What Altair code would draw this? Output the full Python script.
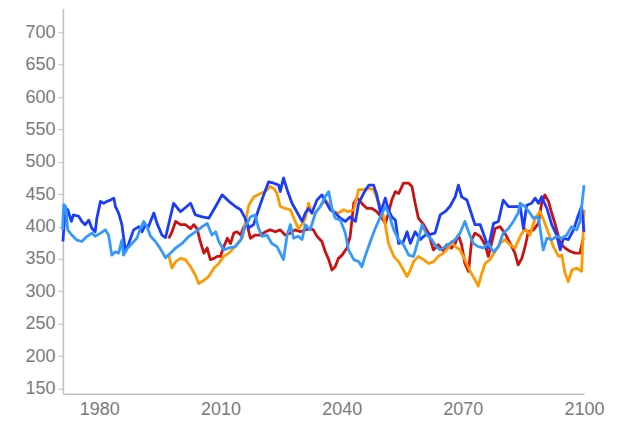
import altair as alt
import pandas as pd

# Series data (year, value)
blue_years = [1971.0, 1971.6, 1972.2, 1973.1, 1973.6, 1974.9, 1975.7, 1976.5, 1977.4, 1978.2, 1979.0, 1979.4,
              1980.3, 1981.1, 1981.9, 1982.8, 1983.6, 1984.0, 1984.8, 1985.6, 1986.5, 1987.3, 1988.5, 1989.8,
              1990.6, 1991.4, 1992.2, 1993.5, 1994.3, 1995.5, 1996.4, 1998.4, 2000.1, 2002.6, 2003.8, 2005.5,
              2007.1, 2008.8, 2010.4, 2012.1, 2013.7, 2015.0, 2016.1, 2017.0, 2018.2, 2019.4, 2020.7, 2021.9,
              2023.2, 2024.4, 2024.8, 2025.6, 2026.5, 2027.7, 2028.9, 2030.2, 2031.0, 2031.8, 2032.6, 2033.9,
              2035.1, 2036.0, 2037.2, 2038.4, 2039.7, 2040.9, 2042.1, 2043.4, 2044.2, 2045.4, 2046.7, 2047.9,
              2048.7, 2049.6, 2050.8, 2051.6, 2052.4, 2053.3, 2054.1, 2055.3, 2056.2, 2057.0, 2058.2, 2059.5,
              2060.7, 2061.9, 2063.1, 2064.4, 2065.6, 2066.8, 2068.1, 2068.9, 2069.7, 2071.0, 2071.8, 2073.0,
              2074.3, 2075.5, 2076.3, 2077.6, 2078.8, 2080.0, 2081.3, 2082.9, 2084.2, 2085.0, 2085.8, 2087.0,
              2087.9, 2088.7, 2089.5, 2090.8, 2092.0, 2093.2, 2094.1, 2094.9, 2096.1, 2097.4, 2098.6, 2099.4,
              2100.0]
blue_values = [377, 428, 426, 408, 418, 416, 408, 403, 410, 397, 392, 413,
               439, 436, 439, 441, 444, 431, 421, 403, 361, 374, 395, 400,
               392, 403, 400, 421, 405, 387, 383, 436, 423, 436, 418, 415,
               413, 431, 449, 439, 431, 426, 413, 398, 403, 426, 449, 469,
               467, 464, 454, 475, 457, 436, 423, 408, 421, 428, 421, 441,
               449, 439, 426, 421, 413, 408, 415, 408, 436, 451, 464, 464,
               449, 421, 444, 426, 415, 410, 374, 377, 392, 374, 392, 380,
               387, 388, 390, 418, 423, 431, 446, 464, 446, 441, 426, 403,
               403, 382, 367, 405, 408, 441, 431, 431, 431, 397, 433, 436,
               444, 436, 446, 428, 403, 387, 364, 382, 380, 395, 418, 431,
               392]

lightblue_years = [1970.9, 1971.2, 1971.7, 1972.2, 1973.2, 1974.5, 1975.7, 1977.0, 1978.2, 1979.0, 1980.3,
                   1981.5, 1982.3, 1983.1, 1984.0, 1984.8, 1985.6, 1986.0, 1986.9, 1988.1, 1989.3, 1990.2,
                   1991.0, 1991.8, 1992.7, 1993.9, 1995.1, 1996.4, 1997.6, 1998.9, 2000.5, 2002.2, 2003.8,
                   2005.5, 2006.7, 2007.9, 2008.8, 2009.6, 2010.8, 2012.1, 2013.7, 2015.0, 2016.1, 2017.4,
                   2018.6, 2019.4, 2020.3, 2021.5, 2022.7, 2024.0, 2024.8, 2025.6, 2026.5, 2027.3, 2028.1,
                   2029.3, 2030.2, 2031.0, 2032.2, 2033.5, 2034.7, 2035.9, 2036.8, 2037.6, 2038.4, 2039.7,
                   2040.9, 2041.7, 2043.0, 2044.2, 2045.0, 2045.8, 2047.1, 2048.3, 2049.6, 2050.8, 2051.6,
                   2052.9, 2054.1, 2055.3, 2056.6, 2057.8, 2059.0, 2059.9, 2061.1, 2062.3, 2063.3, 2064.4,
                   2065.6, 2066.8, 2068.1, 2069.3, 2070.5, 2071.4, 2072.6, 2073.8, 2075.1, 2076.3, 2077.6,
                   2078.8, 2080.0, 2081.3, 2082.5, 2083.7, 2084.2, 2085.4, 2086.6, 2087.5, 2088.7, 2089.9,
                   2090.8, 2092.0, 2093.2, 2094.5, 2095.7, 2096.9, 2098.2, 2099.0, 2100.0]
lightblue_values = [395, 434, 431, 395, 387, 379, 377, 385, 390, 385, 390,
                    395, 387, 356, 361, 359, 379, 356, 366, 374, 382, 397,
                    408, 400, 385, 377, 366, 352, 359, 367, 374, 385, 392,
                    400, 405, 387, 392, 377, 364, 367, 369, 379, 400, 415,
                    418, 398, 385, 387, 374, 369, 359, 349, 387, 403, 382,
                    385, 380, 403, 395, 421, 431, 446, 454, 428, 413, 410,
                    390, 364, 349, 346, 338, 354, 377, 397, 415, 431, 421,
                    395, 380, 372, 356, 354, 380, 403, 387, 380, 370, 364,
                    369, 374, 380, 390, 408, 392, 374, 369, 367, 374, 361,
                    369, 390, 397, 408, 421, 436, 431, 421, 413, 415, 364,
                    382, 380, 385, 382, 387, 400, 395, 408, 464]

red_years = [1997.2, 1998.0, 1998.9, 2000.1, 2001.3, 2002.6, 2003.4, 2004.2, 2005.0, 2005.9, 2006.7, 2007.5,
             2008.4, 2009.2, 2010.0, 2010.8, 2011.7, 2012.5, 2013.3, 2014.1, 2015.0, 2015.8, 2016.6, 2017.4,
             2018.6, 2019.9, 2021.1, 2022.3, 2023.6, 2024.8, 2026.0, 2027.3, 2028.5, 2029.8, 2031.0, 2032.2,
             2033.0, 2033.9, 2035.1, 2035.9, 2036.8, 2037.6, 2038.4, 2039.2, 2040.1, 2041.3, 2042.1, 2043.0,
             2043.8, 2044.6, 2045.4, 2046.3, 2047.5, 2048.7, 2050.0, 2050.8, 2051.6, 2052.4, 2053.3, 2054.1,
             2055.3, 2056.6, 2057.4, 2058.2, 2059.0, 2060.3, 2061.5, 2062.7, 2063.9, 2065.2, 2066.0, 2067.2,
             2068.1, 2068.9, 2069.7, 2070.5, 2071.4, 2072.2, 2073.0, 2074.3, 2075.5, 2076.3, 2077.1, 2078.0,
             2079.2, 2080.4, 2081.7, 2082.9, 2083.7, 2084.6, 2085.4, 2086.2, 2087.5, 2088.7, 2089.5, 2090.3,
             2091.2, 2092.0, 2092.8, 2094.1, 2095.3, 2096.5, 2097.8, 2099.0, 2099.8]
red_values = [382, 392, 408, 403, 403, 397, 403, 397, 377, 359, 367, 349,
              351, 354, 354, 369, 382, 374, 390, 392, 387, 400, 403, 382,
              387, 387, 392, 395, 392, 395, 387, 390, 395, 392, 395, 397,
              395, 385, 377, 362, 349, 333, 338, 351, 356, 367, 385, 436,
              444, 439, 433, 428, 428, 423, 413, 405, 421, 441, 454, 451,
              467, 467, 462, 436, 413, 403, 390, 364, 372, 362, 372, 367,
              374, 387, 372, 343, 331, 380, 390, 385, 372, 354, 374, 397,
              400, 390, 374, 359, 341, 351, 369, 392, 395, 405, 436, 449,
              439, 421, 405, 374, 367, 362, 359, 359, 382]

orange_years = [1997.2, 1998.0, 1998.9, 2000.1, 2001.3, 2002.6, 2003.8, 2004.6, 2005.9, 2007.1, 2008.4, 2009.6,
                2010.8, 2012.1, 2013.3, 2014.6, 2015.4, 2016.2, 2017.0, 2018.3, 2019.9, 2021.1, 2022.3, 2023.2,
                2024.0, 2024.8, 2026.0, 2027.3, 2028.5, 2029.3, 2030.2, 2031.0, 2031.8, 2032.6, 2033.5, 2034.7,
                2035.9, 2036.8, 2038.0, 2039.2, 2040.5, 2041.7, 2043.0, 2044.2, 2045.4, 2046.7, 2047.9, 2048.7,
                2050.0, 2050.8, 2051.6, 2052.9, 2054.1, 2055.3, 2056.2, 2057.0, 2057.8, 2059.0, 2060.3, 2061.5,
                2062.8, 2063.9, 2065.2, 2066.4, 2067.2, 2068.1, 2069.3, 2070.5, 2071.8, 2073.0, 2073.8, 2074.7,
                2075.5, 2076.7, 2078.0, 2079.2, 2080.4, 2081.7, 2082.9, 2084.2, 2085.4, 2086.6, 2087.9, 2089.1,
                2090.0, 2091.2, 2092.4, 2093.7, 2094.5, 2095.3, 2096.1, 2097.0, 2098.2, 2099.4, 2100.0]
orange_values = [356, 336, 346, 351, 349, 338, 325, 312, 317, 323, 336, 343,
                 354, 359, 367, 377, 382, 408, 433, 446, 451, 454, 462, 459,
                 451, 431, 428, 426, 408, 397, 403, 413, 436, 421, 421, 431,
                 441, 436, 423, 421, 426, 423, 426, 457, 457, 459, 457, 444,
                 426, 403, 374, 354, 346, 333, 323, 333, 346, 354, 349, 343,
                 346, 354, 359, 367, 377, 369, 364, 349, 331, 318, 308, 328,
                 343, 349, 362, 374, 380, 372, 367, 385, 397, 387, 413, 423,
                 410, 390, 369, 354, 356, 328, 315, 333, 336, 331, 426]

series_names = ["Red", "Orange", "Blue", "Light blue"]
series_colors = ["#cc1111", "#ff9900", "#1a3cff", "#3399ff"]
x_ticks = [1980, 2010, 2040, 2070, 2100]
y_ticks = [150, 200, 250, 300, 350, 400, 450, 500, 550, 600, 650, 700]

frames = []
for order, (name, yrs, vals) in enumerate([
    ("Red", red_years, red_values),
    ("Orange", orange_years, orange_values),
    ("Blue", blue_years, blue_values),
    ("Light blue", lightblue_years, lightblue_values),
]):
    frames.append(pd.DataFrame({"year": yrs, "value": vals, "series": name, "ord": order}))
df = pd.concat(frames, ignore_index=True)

font = "Liberation Sans, Arial, sans-serif"

chart = alt.Chart(df).mark_line(strokeWidth=2.8, strokeJoin="round").encode(
    x=alt.X("year:Q",
            scale=alt.Scale(domain=[1971, 2100], nice=False, zero=False),
            axis=alt.Axis(values=x_ticks, format="d", title=None, grid=False, ticks=False,
                          labelFontSize=18, labelColor="#7a7a7a", labelFont=font,
                          domainColor="#c0c0c0", domainWidth=1.5, labelPadding=7,
                          labelFlush=False)),
    y=alt.Y("value:Q",
            scale=alt.Scale(domain=[142, 737], nice=False, zero=False),
            axis=alt.Axis(values=y_ticks, title=None, grid=False, tickSize=5,
                          tickColor="#c0c0c0", labelFontSize=18, labelColor="#7a7a7a",
                          labelFont=font, domainColor="#c0c0c0", domainWidth=1.5,
                          labelPadding=3, labelFlush=False)),
    color=alt.Color("series:N", scale=alt.Scale(domain=series_names, range=series_colors), legend=None),
    detail="series:N",
    order="ord:Q",
).properties(
    width=522,
    height=386,
    autosize=alt.AutoSizeParams(type="none"),
    padding={"left": 55, "top": 0, "right": 30, "bottom": 30},
).configure_view(stroke=None)

chart.save("out.html", embed_options={"renderer": "svg", "actions": False})
